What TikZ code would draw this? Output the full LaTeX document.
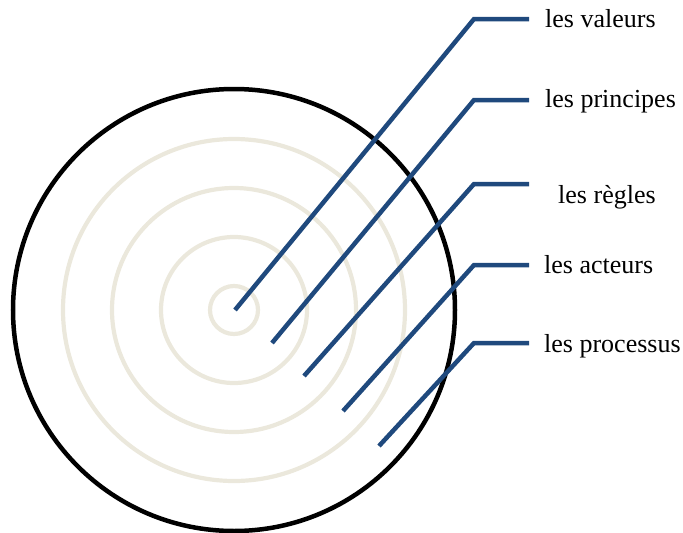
\documentclass[tikz,border=0pt]{standalone}
\usepackage{fontspec}
\setmainfont{Liberation Serif}
\definecolor{ringbeige}{HTML}{EBE8DC}
\definecolor{leaderblue}{HTML}{1F497D}
\begin{document}
\begin{tikzpicture}[x=1pt,y=-1pt,
  ring/.style={draw=ringbeige,line width=4.2pt},
  rim/.style={draw=black,line width=4.5pt},
  leader/.style={draw=leaderblue,line width=4.5pt,line join=miter},
  lbl/.style={anchor=base west,inner sep=0pt,font=\fontsize{26}{31}\selectfont}]
\useasboundingbox (0,0) rectangle (683,533);

% concentric rings and outer rim
\coordinate (O) at (234,310);
\foreach \r in {24,73,122,171}
  \draw[ring] (O) circle[radius=\r pt];
\draw[rim] (O) circle[radius=221pt];

% leader lines: start, elbow, end
\coordinate (s1) at (235,310);   \coordinate (c1) at (474,19);  \coordinate (e1) at (529,19);
\coordinate (s2) at (272,343);   \coordinate (c2) at (474,100); \coordinate (e2) at (529,100);
\coordinate (s3) at (304,376);   \coordinate (c3) at (474,184); \coordinate (e3) at (529,184);
\coordinate (s4) at (343,411);   \coordinate (c4) at (474,265); \coordinate (e4) at (529,265);
\coordinate (s5) at (379,446);   \coordinate (c5) at (474,343); \coordinate (e5) at (529,343);

\foreach \i in {1,...,5}
  \draw[leader] (s\i) -- (c\i) -- (e\i);

% labels
\node[lbl] (l1) at (545,27.5)  {les valeurs};
\node[lbl] (l2) at (545,107.5) {les principes};
\node[lbl] (l3) at (558,203)   {les règles};
\node[lbl] (l4) at (544,273.5) {les acteurs};
\node[lbl] (l5) at (544,352.5) {les processus};
\end{tikzpicture}
\end{document}
